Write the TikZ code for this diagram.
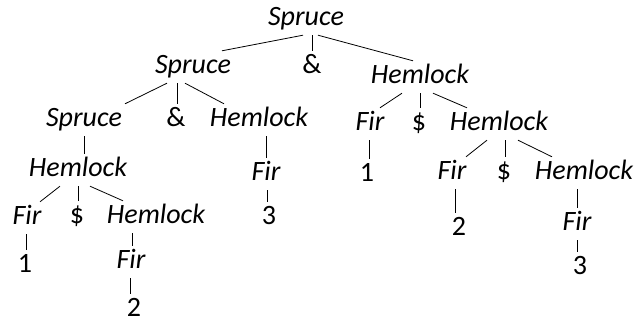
\documentclass[tikz,border=0pt]{standalone}
\usepackage{fontspec}
\setmainfont{Carlito}
\tikzset{
  tn/.style={inner sep=0pt, anchor=base, text height=23pt, text depth=9pt,
    font=\fontsize{28}{33}\selectfont},
  wd/.style={tn, font=\fontsize{28}{33}\selectfont\itshape},
  br/.style={line width=0.8pt}
}
\begin{document}
\begin{tikzpicture}[x=1pt, y=-1pt]
	\useasboundingbox (0,0) rectangle (638,323);

	% top levels
	\node [wd] (sp0) at (306,26) {Spruce};
	\node [wd] (sp1) at (193,74) {Spruce};
	\node [tn] (amp1) at (312,74) {\&};
	\node [wd] (hm1) at (420,84) {Hemlock};

	\node [wd] (sp2) at (84,127) {Spruce};
	\node [tn] (amp2) at (176,127) {\&};
	\node [wd] (hm2) at (259,127) {Hemlock};
	\node [wd] (fir2) at (370,131) {Fir};
	\node [tn] (dol2) at (419,131) {\$};
	\node [wd] (hm3) at (499,131) {Hemlock};

	% middle levels
	\node [wd] (hm4) at (78,177) {Hemlock};
	\node [wd] (fir4) at (266,181) {Fir};
	\node [tn] (one2) at (367,182) {1};
	\node [wd] (fir5) at (452,180) {Fir};
	\node [tn] (dol5) at (504,180) {\$};
	\node [wd] (hm5) at (584,180) {Hemlock};

	\node [wd] (fir7) at (27,225) {Fir};
	\node [tn] (dol7) at (77,224) {\$};
	\node [wd] (hm7) at (156,224) {Hemlock};
	\node [tn] (three3) at (269,225) {3};
	\node [tn] (two5) at (459,236) {2};
	\node [wd] (fir6) at (577,231) {Fir};

	% bottom levels
	\node [tn] (one7) at (25,273) {1};
	\node [wd] (fir8) at (131,269) {Fir};
	\node [tn] (three6) at (580,275) {3};
	\node [tn, text depth=2pt] (two8) at (134,317) {2};

	% branches
	\draw [br] ([xshift=-3pt]sp0.south) -- ([xshift=29pt]sp1.north);
	\draw [br] ([xshift=6pt]sp0.south) -- (amp1.north);
	\draw [br] ([xshift=12pt]sp0.south) -- ([xshift=-7pt]hm1.north);

	\draw [br] ([xshift=-26pt]sp1.south) -- ([xshift=41pt]sp2.north);
	\draw [br] ([xshift=-16pt]sp1.south) -- ([xshift=1pt]amp2.north);
	\draw [br] ([xshift=-8pt]sp1.south) -- ([xshift=-35pt]hm2.north);

	\draw [br] ([xshift=-18pt]hm1.south) -- ([xshift=10pt]fir2.north);
	\draw [br] (hm1.south) -- ([xshift=1pt]dol2.north);
	\draw [br] ([xshift=13pt]hm1.south) -- ([xshift=-32pt]hm3.north);

	\draw [br] (sp2.south) -- ([xshift=6pt]hm4.north);
	\draw [br] ([xshift=7pt]hm2.south) -- (fir4.north);
	\draw [br] ([xshift=-1pt]fir2.south) -- ([xshift=2pt]one2.north);

	\draw [br] ([xshift=-12pt]hm3.south) -- ([xshift=14pt]fir5.north);
	\draw [br] ([xshift=6pt]hm3.south) -- ([xshift=1pt]dol5.north);
	\draw [br] ([xshift=19pt]hm3.south) -- ([xshift=-32pt]hm5.north);

	\draw [br] ([xshift=-18pt]hm4.south) -- ([xshift=13pt]fir7.north);
	\draw [br] (hm4.south) -- ([xshift=1pt]dol7.north);
	\draw [br] ([xshift=12pt]hm4.south) -- ([xshift=-33pt]hm7.north);

	\draw [br] ([xshift=1pt]fir4.south) -- ([xshift=-2pt]three3.north);
	\draw [br] ([xshift=-1pt]fir7.south) -- ([xshift=1pt]one7.north);
	\draw [br] ([xshift=-24pt]hm7.south) -- ([xshift=1pt]fir8.north);
	\draw [br] ([xshift=-1pt]fir8.south) -- ([xshift=-4pt]two8.north);
	\draw [br] ([xshift=3pt]fir5.south) -- ([xshift=-4pt]two5.north);
	\draw [br] ([xshift=-7pt]hm5.south) -- (fir6.north);
	\draw [br] (fir6.south) -- ([xshift=-3pt]three6.north);
\end{tikzpicture}
\end{document}
